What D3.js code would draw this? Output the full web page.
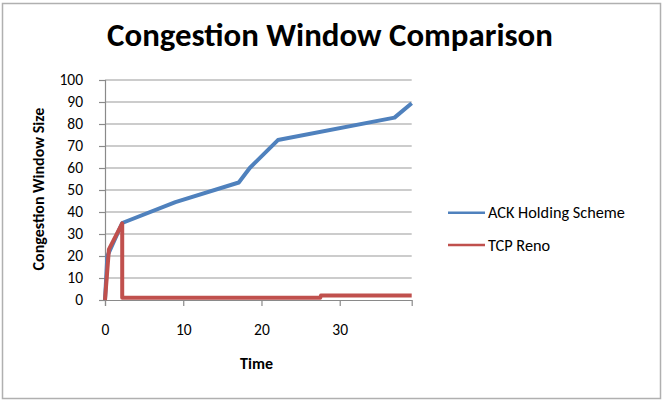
<!DOCTYPE html>
<html><head><meta charset="utf-8">
<script src="https://cdn.jsdelivr.net/npm/d3@7"></script>
<style>body{margin:0;background:#fff}svg{display:block}</style>
</head><body>
<script>
const title = "Congestion Window Comparison";
const xLabel = "Time";
const yLabel = "Congestion Window Size";
const seriesNames = ["ACK Holding Scheme", "TCP Reno"];
const seriesColors = ["#4F81BD", "#C0504D"];
const ackTime  = [0, 0.3, 2.2, 9, 17.1, 18.5, 22.1, 37.0, 39.2];
const ackValue = [0, 20, 35, 44.5, 53.4, 60, 72.7, 82.9, 89.4];
const renoTime  = [0, 0.5, 2.2, 2.2, 27.5, 27.6, 39.2];
const renoValue = [0, 23, 34.8, 1, 1, 2, 2];
const xTicks = [0, 10, 20, 30];
const yTicks = [0, 10, 20, 30, 40, 50, 60, 70, 80, 90, 100];

const W = 664, H = 401;
const svg = d3.select("body").append("svg").attr("width", W).attr("height", H);
svg.append("rect").attr("x", 2.5).attr("y", 3.5).attr("width", 658).attr("height", 395)
  .attr("fill", "#fff").attr("stroke", "#b0b0b0").attr("stroke-width", 1.5);

const x = d3.scaleLinear().domain([0, 39.2]).range([105, 411.7]);
const y = d3.scaleLinear().domain([0, 100]).range([300, 80]);
const font = "Calibri, Carlito, Lato, 'Open Sans', sans-serif";

function fit(sel, target, base, maxSize) {
  sel.attr("font-size", base);
  const w = sel.node().getComputedTextLength();
  let s = base * target / w;
  if (maxSize && s > maxSize) s = maxSize;
  sel.attr("font-size", s);
  return s;
}

// gridlines
svg.append("g").selectAll("line").data(yTicks.filter(d => d > 0)).join("line")
  .attr("x1", x(0)).attr("x2", x.range()[1]).attr("y1", d => y(d)).attr("y2", d => y(d))
  .attr("stroke", "#9a9a9a").attr("stroke-width", 1.2);

// measure tick font size from "100" width
const probe = svg.append("text").attr("font-family", font).text("100");
const tickSize = fit(probe, 27, 13, 15.5);
probe.remove();

// y axis
const ya = svg.append("g").attr("transform", `translate(${x(0)},0)`)
  .call(d3.axisLeft(y).tickValues(yTicks).tickSize(6).tickPadding(16));
ya.select(".domain").attr("stroke", "#8a8a8a").attr("stroke-width", 1.2);
ya.selectAll(".tick line").attr("stroke", "#8a8a8a").attr("stroke-width", 1.2);
ya.selectAll("text").attr("font-family", font).attr("font-size", tickSize).attr("fill", "#000");

// x axis
const xa = svg.append("g").attr("transform", `translate(0,${y(0)})`)
  .call(d3.axisBottom(x).tickValues(xTicks).tickSize(6));
xa.select(".domain").attr("stroke", "#8a8a8a").attr("stroke-width", 1.2);
xa.selectAll(".tick line").attr("stroke", "#8a8a8a").attr("stroke-width", 1.2);
xa.selectAll("text").attr("font-family", font).attr("font-size", tickSize).attr("fill", "#000")
  .attr("y", 35).attr("dy", null);

const line = d3.line().x(d => x(d[0])).y(d => y(d[1]));
const ack = ackTime.map((t, i) => [t, ackValue[i]]);
const reno = renoTime.map((t, i) => [t, renoValue[i]]);
svg.append("path").datum(ack).attr("d", line).attr("fill", "none")
  .attr("stroke", seriesColors[0]).attr("stroke-width", 4).attr("stroke-linejoin", "round");
svg.append("path").datum(reno).attr("d", line).attr("fill", "none")
  .attr("stroke", seriesColors[1]).attr("stroke-width", 4).attr("stroke-linejoin", "round");

// title
const tt = svg.append("text").attr("x", 330).attr("y", 46).attr("text-anchor", "middle")
  .attr("font-family", font).attr("font-weight", "bold").text(title);
fit(tt, 446, 28);

// axis titles
const xl = svg.append("text").attr("x", 256.5).attr("y", 369).attr("text-anchor", "middle")
  .attr("font-family", font).attr("font-weight", "bold").text(xLabel);
fit(xl, 36, 13, 16);
const yl = svg.append("text").attr("transform", "translate(44,189) rotate(-90)").attr("text-anchor", "middle")
  .attr("font-family", font).attr("font-weight", "bold").text(yLabel);
fit(yl, 180, 13, 16);

// legend
const lg = svg.append("g");
let legSize = null;
seriesNames.forEach((n, i) => {
  const ly = 212.7 + i * 32.3;
  lg.append("line").attr("x1", 448).attr("x2", 485).attr("y1", ly).attr("y2", ly)
    .attr("stroke", seriesColors[i]).attr("stroke-width", 2.5);
  const t = lg.append("text").attr("x", 488).attr("y", ly + 5.5).attr("font-family", font)
    .attr("fill", "#000").text(n);
  if (i === 0) legSize = fit(t, 137, 13.5, 17);
  else t.attr("font-size", legSize);
});
</script>
</body></html>
